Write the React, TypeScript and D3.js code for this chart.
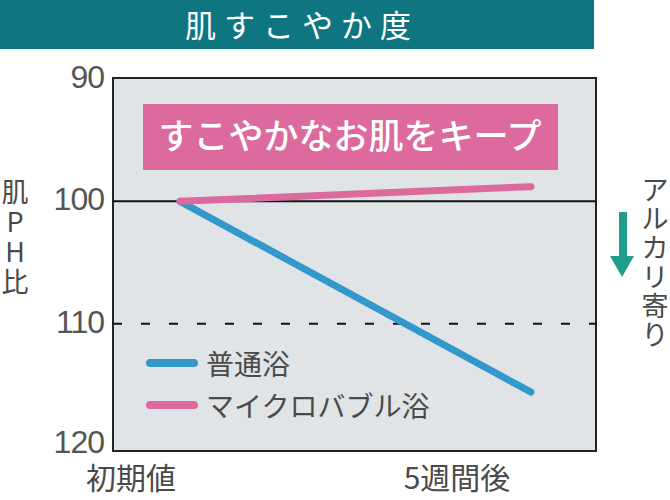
import React, { useEffect } from 'react';
import * as d3 from 'd3';

const categories = ['初期値', '5週間後'];
const normalBath = [100, 115.6];
const microBubbleBath = [100, 98.8];
const yTicks = [90, 100, 110, 120];
const seriesNames = ['普通浴', 'マイクロバブル浴'];
const yTitle = ['肌', 'P', 'H', '比'];
const sideNote = ['ア', 'ル', 'カ', 'リ', '寄', 'り'];

const FONT = '"Noto Sans CJK JP", "Noto Sans", sans-serif';
const BLUE = '#3399cc';
const PINK = '#dc6a9c';
const TEAL = '#0f7580';
const TEXT = '#4a4a4a';

const App: React.FC = () => {
    useEffect(() => {
        document.body.style.margin = '0';
    }, []);

    const width = 670;
    const height = 500;
    const plot = { left: 113, right: 596, top: 78, bottom: 451 };

    // scales
    const y = d3.scaleLinear().domain([90, 120]).range([79, 446]);
    const x = d3.scalePoint<string>().domain(categories).range([180, 531]);
    const xLabel = d3.scalePoint<string>().domain(categories).range([131, 457]);

    const line = d3.line<number>()
        .x((_, i) => x(categories[i]) as number)
        .y(d => y(d));

    const colors = [BLUE, PINK];

    return (
        <svg width={width} height={height} style={{ display: 'block', fontFamily: FONT }}>
            {/* title bar */}
            <rect x={0} y={0} width={594} height={49} fill={TEAL} />
            <text x={302} y={37} textAnchor="middle" fill="#fff" fontSize={31} letterSpacing={8}>
                肌すこやか度
            </text>

            {/* plot background */}
            <rect x={plot.left} y={plot.top} width={plot.right - plot.left} height={plot.bottom - plot.top}
                  fill="#e1e4e7" stroke="#222" strokeWidth={2} />

            {/* reference lines */}
            <line x1={plot.left} x2={plot.right} y1={y(100)} y2={y(100)} stroke="#111" strokeWidth={2} />
            <line x1={plot.left} x2={plot.right} y1={y(110)} y2={y(110)} stroke="#111" strokeWidth={2}
                  strokeDasharray="9 19" />

            {/* banner */}
            <rect x={143} y={104} width={415} height={66} fill={PINK} />
            <text x={350} y={149} textAnchor="middle" fill="#fff" fontSize={35} fontWeight={500}>
                すこやかなお肌をキープ
            </text>

            {/* y tick labels */}
            {yTicks.map(t => (
                <text key={t} x={104} y={t === 120 ? y(t) - 4 : y(t) - 2} textAnchor="end"
                      dominantBaseline="central" fill="#555" fontSize={32} fontWeight={300}
                      letterSpacing={-1} fontFamily='"Liberation Sans", sans-serif'>
                    {t}
                </text>
            ))}

            {/* x labels */}
            {categories.map(c => (
                <text key={c} x={xLabel(c)} y={489} textAnchor="middle" fill={TEXT} fontSize={30}>
                    {c}
                </text>
            ))}

            {/* y title, stacked */}
            {yTitle.map((ch, i) => (
                <text key={i} x={15} y={190 + i * 30} textAnchor="middle" dominantBaseline="central"
                      fill={TEXT} fontSize={27}>
                    {ch}
                </text>
            ))}

            {/* alkaline note */}
            {sideNote.map((ch, i) => (
                <text key={i} x={655} y={188 + i * 29} textAnchor="middle" dominantBaseline="central"
                      fill={TEXT} fontSize={27}>
                    {ch}
                </text>
            ))}
            <rect x={619} y={212} width={8} height={46} fill="#1f9c8c" />
            <path d="M610,256 L634,256 L622,277 Z" fill="#1f9c8c" />

            {/* series */}
            {[normalBath, microBubbleBath].map((s, i) => (
                <path key={i} d={line(s) ?? ''} fill="none" stroke={colors[i]} strokeWidth={7}
                      strokeLinecap="round" />
            ))}

            {/* legend */}
            {seriesNames.map((name, i) => (
                <g key={name} transform={`translate(0,${363 + i * 42})`}>
                    <line x1={150} x2={194} y1={0} y2={0} stroke={colors[i]} strokeWidth={8} strokeLinecap="round" />
                    <text x={206} y={0} dominantBaseline="central" fill={TEXT} fontSize={28}>
                        {name}
                    </text>
                </g>
            ))}
        </svg>
    );
};

export default App;
